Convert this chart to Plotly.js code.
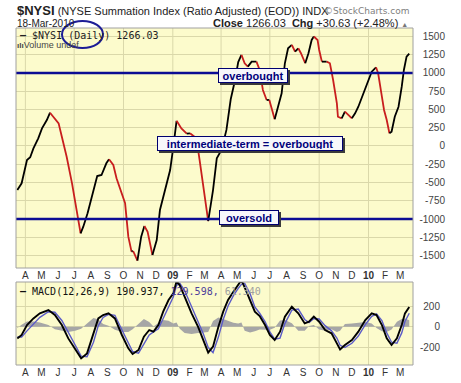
<!DOCTYPE html>
<html><head><meta charset="utf-8">
<script src="https://cdn.plot.ly/plotly-3.0.1.min.js"></script>
<style>html,body{margin:0;padding:0;background:#fff;}#chart{width:461px;height:383px;}</style>
</head><body><div id="chart"></div>
<script>
// ---------------- data ----------------
const nysiDates = ['2008-03-17','2008-03-25','2008-04-04','2008-04-10','2008-04-16','2008-04-25','2008-05-02','2008-05-11','2008-05-17','2008-05-23','2008-06-02','2008-06-08','2008-06-17','2008-06-27','2008-07-05','2008-07-13','2008-07-18','2008-07-26','2008-08-06','2008-08-13','2008-08-21','2008-08-30','2008-09-04','2008-09-12','2008-09-18','2008-09-28','2008-10-04','2008-10-10','2008-10-16','2008-10-19','2008-10-27','2008-11-03','2008-11-09','2008-11-15','2008-11-24','2008-12-02','2008-12-08','2008-12-18','2008-12-27','2009-01-02','2009-01-08','2009-01-17','2009-01-27','2009-02-02','2009-02-07','2009-02-14','2009-02-20','2009-02-28','2009-03-08','2009-03-17','2009-03-24','2009-04-02','2009-04-11','2009-04-19','2009-04-27','2009-05-03','2009-05-09','2009-05-15','2009-05-21','2009-05-28','2009-06-06','2009-06-12','2009-06-18','2009-06-25','2009-06-30','2009-07-04','2009-07-10','2009-07-16','2009-07-23','2009-07-29','2009-08-04','2009-08-11','2009-08-17','2009-08-23','2009-08-28','2009-09-05','2009-09-11','2009-09-17','2009-09-21','2009-09-28','2009-10-01','2009-10-06','2009-10-15','2009-10-21','2009-10-27','2009-11-03','2009-11-05','2009-11-12','2009-11-18','2009-11-24','2009-12-01','2009-12-07','2009-12-13','2009-12-19','2009-12-29','2010-01-07','2010-01-15','2010-01-19','2010-01-26','2010-01-30','2010-02-04','2010-02-09','2010-02-13','2010-02-19','2010-02-26','2010-03-04','2010-03-08','2010-03-13','2010-03-18'];
const nysiValues = [-603,-511,-192,-155,-32,105,242,356,456,401,310,127,-147,-511,-877,-1196,-1105,-922,-603,-411,-397,-237,-182,-260,-442,-648,-785,-1242,-1447,-1438,-1571,-1242,-1096,-1174,-1493,-1288,-877,-603,-329,-9,345,240,170,174,140,105,-192,-603,-1030,-603,-170,-50,220,640,900,1150,1247,1133,1087,1155,1155,1041,767,630,630,516,366,538,722,1133,1338,1384,1292,1338,1270,1133,1270,1452,1500,1452,1315,1155,1155,1133,904,584,401,379,470,425,379,447,538,653,858,1018,1078,996,675,493,356,174,196,401,538,812,1041,1223,1266.03];

const macdDates = ['2008-03-17','2008-03-25','2008-04-04','2008-04-16','2008-04-28','2008-05-14','2008-05-26','2008-06-08','2008-06-20','2008-07-03','2008-07-14','2008-07-25','2008-08-06','2008-08-15','2008-08-24','2008-09-03','2008-09-15','2008-09-28','2008-10-10','2008-10-18','2008-10-29','2008-11-08','2008-11-18','2008-11-26','2008-12-05','2008-12-14','2008-12-24','2009-01-02','2009-01-08','2009-01-14','2009-01-23','2009-02-05','2009-02-17','2009-02-27','2009-03-08','2009-03-17','2009-03-27','2009-04-05','2009-04-14','2009-04-24','2009-05-03','2009-05-09','2009-05-15','2009-05-25','2009-06-03','2009-06-12','2009-06-22','2009-07-01','2009-07-10','2009-07-20','2009-07-29','2009-08-11','2009-08-23','2009-09-04','2009-09-12','2009-09-21','2009-10-01','2009-10-12','2009-10-24','2009-11-03','2009-11-09','2009-11-18','2009-12-01','2009-12-13','2009-12-26','2010-01-07','2010-01-16','2010-01-26','2010-02-04','2010-02-13','2010-02-23','2010-03-04','2010-03-10','2010-03-18'];
const macdValues = [-113,-80,16,80,129,161,113,16,-113,-225,-306,-258,-64,80,113,129,80,-80,-209,-264,-225,-97,-32,-48,16,145,258,322,440,400,290,129,0,-129,-251,-193,0,145,258,338,402,450,380,258,145,103,16,-80,-129,-48,97,193,129,32,48,97,48,-32,-64,-161,-219,-177,-129,-48,64,129,113,16,-113,-177,-113,16,129,190.937];
const signalValues = [-100,-100,-40,30,90,145,140,60,-60,-180,-285,-290,-150,10,90,120,110,-30,-160,-240,-255,-170,-80,-50,-20,80,200,290,400,420,350,200,60,-70,-200,-250,-100,70,200,300,370,410,420,320,190,130,50,-50,-120,-110,30,160,170,70,40,80,75,10,-40,-110,-180,-200,-160,-90,20,100,125,60,-60,-150,-160,-60,50,129.598];
const histValues = [-13,20,50,50,40,16,-25,-40,-50,-40,-20,30,85,70,25,10,-30,-50,-50,-25,30,75,45,2,35,65,58,32,40,-20,-60,-70,-60,-55,-50,55,90,75,55,38,30,40,-40,-55,-45,-27,-30,-30,-10,60,65,33,-40,-38,8,17,-27,-40,-25,-50,-40,25,30,40,45,30,-12,-45,-50,-27,47,75,79,61.34];

const levelValues = [1000, -1000];
const levelLabels = ['overbought', 'oversold'];
const middleLabel = 'intermediate-term = overbought';

const monthTicks = ['2008-04-01','2008-05-01','2008-06-01','2008-07-01','2008-08-01','2008-09-01','2008-10-01','2008-11-01','2008-12-01','2009-01-01','2009-02-01','2009-03-01','2009-04-01','2009-05-01','2009-06-01','2009-07-01','2009-08-01','2009-09-01','2009-10-01','2009-11-01','2009-12-01','2010-01-01','2010-02-01','2010-03-01'];
const monthLabels = ['A','M','J','J','A','S','O','N','D','<b>09</b>','F','M','A','M','J','J','A','S','O','N','D','<b>10</b>','F','M'];
const quarterTicks = ['2008-04-01','2008-07-01','2008-10-01','2009-01-01','2009-04-01','2009-07-01','2009-10-01','2010-01-01'];
const mainTicks = [-1500,-1250,-1000,-750,-500,-250,0,250,500,750,1000,1250,1500];
const mainTickText = ['-1500','-1250','-1000','-750','-500','-250','0','250','500','750','1000','1250','1500'];
const macdTicks = [-200, 0, 200];
const macdTickText = ['-200', '0', '200'];

// ---------------- layout helpers ----------------
const FONT = 'Liberation Sans, Arial, sans-serif';
const MONO = 'DejaVu Sans Mono, monospace';
const W = 461, H = 383, ML = 16, MR = 16, MT = 28, MB = 18;
const PW = W - ML - MR, PH = H - MT - MB;
const px2x = p => (p - ML) / PW;
const px2y = p => (H - MB - p) / PH;
const xEnd = px2x(413);
const GRID = '#DAD8AA';
const NAVY = '#0C0C94';
const xRange = ['2008-03-14 12:00', '2010-03-25'];

function ellipsePath(cxp, cyp, rxp, ryp) {
  const cx = px2x(cxp), cy = px2y(cyp), rx = rxp / PW, ry = ryp / PH, k = 0.5523;
  const f = (a, b) => a.toFixed(5) + ',' + b.toFixed(5);
  return 'M' + f(cx + rx, cy) +
    ' C' + f(cx + rx, cy + k * ry) + ' ' + f(cx + k * rx, cy + ry) + ' ' + f(cx, cy + ry) +
    ' C' + f(cx - k * rx, cy + ry) + ' ' + f(cx - rx, cy + k * ry) + ' ' + f(cx - rx, cy) +
    ' C' + f(cx - rx, cy - k * ry) + ' ' + f(cx - k * rx, cy - ry) + ' ' + f(cx, cy - ry) +
    ' C' + f(cx + k * rx, cy - ry) + ' ' + f(cx + rx, cy - k * ry) + ' ' + f(cx + rx, cy) + ' Z';
}

// ---------------- traces ----------------
const traces = [];
let run = null; const runs = [];
for (let i = 1; i < nysiValues.length; i++) {
  const up = nysiValues[i] >= nysiValues[i - 1];
  if (!run || run.up !== up) { run = {up, x: [nysiDates[i - 1]], y: [nysiValues[i - 1]]}; runs.push(run); }
  run.x.push(nysiDates[i]); run.y.push(nysiValues[i]);
}
runs.forEach(r => traces.push({type: 'scatter', mode: 'lines', x: r.x, y: r.y, xaxis: 'x', yaxis: 'y',
  line: {color: r.up ? '#000000' : '#C81E1E', width: 1.8}, hoverinfo: 'skip', showlegend: false}));

traces.push({type: 'scatter', mode: 'lines', x: macdDates, y: histValues, xaxis: 'x2', yaxis: 'y2',
  fill: 'tozeroy', fillcolor: '#A6A6A6', line: {width: 0, color: '#A6A6A6'}, hoverinfo: 'skip', showlegend: false});
traces.push({type: 'scatter', mode: 'lines', x: macdDates, y: signalValues, xaxis: 'x2', yaxis: 'y2',
  line: {color: '#5B5BC8', width: 1.4}, hoverinfo: 'skip', showlegend: false});
traces.push({type: 'scatter', mode: 'lines', x: macdDates, y: macdValues, xaxis: 'x2', yaxis: 'y2',
  line: {color: '#000000', width: 1.9}, hoverinfo: 'skip', showlegend: false});

// ---------------- shapes ----------------
const shapes = [];
quarterTicks.forEach(d => {
  shapes.push({type: 'line', xref: 'x', yref: 'y domain', x0: d, x1: d, y0: 0, y1: 1, line: {color: GRID, width: 1}, layer: 'below'});
  shapes.push({type: 'line', xref: 'x2', yref: 'y2 domain', x0: d, x1: d, y0: 0, y1: 1, line: {color: GRID, width: 1}, layer: 'below'});
});
levelValues.forEach(v => shapes.push({type: 'line', xref: 'x domain', yref: 'y', x0: 0, x1: 1, y0: v, y1: v,
  line: {color: NAVY, width: 2.5}, layer: 'above'}));
shapes.push({type: 'rect', xref: 'x domain', yref: 'y domain', x0: 0, x1: 1, y0: 0, y1: 1, line: {color: '#A0A0A0', width: 1}, fillcolor: 'rgba(0,0,0,0)', layer: 'above'});
shapes.push({type: 'rect', xref: 'x2 domain', yref: 'y2 domain', x0: 0, x1: 1, y0: 0, y1: 1, line: {color: '#A0A0A0', width: 1}, fillcolor: 'rgba(0,0,0,0)', layer: 'above'});
shapes.push({type: 'path', xref: 'paper', yref: 'paper', path: ellipsePath(82.5, 34.5, 20.5, 13.5),
  line: {color: '#1C1C96', width: 2}, fillcolor: 'rgba(0,0,0,0)', layer: 'above'});

// ---------------- annotations ----------------
const boxStyle = {showarrow: false, bgcolor: '#F7F7FB', bordercolor: '#000070', borderwidth: 1, borderpad: 1,
  font: {family: FONT, size: 11, color: '#00007A'}};
const shadowStyle = {showarrow: false, bgcolor: '#3A3A3A', borderwidth: 1, bordercolor: '#3A3A3A', borderpad: 1,
  xshift: 2, yshift: -2, text: '\u00a0', font: {family: FONT, size: 11}};
const boxes = [
  {x: '2009-05-30', y: 965, text: '<b>' + levelLabels[0] + '</b>', width: 66, height: 11},
  {x: '2009-05-25', y: 34, text: '<b>' + middleLabel + '</b>', width: 182, height: 11},
  {x: '2009-05-23', y: -985, text: '<b>' + levelLabels[1] + '</b>', width: 56, height: 11}
];
const annotations = [
  {xref: 'paper', yref: 'paper', x: px2x(15), y: px2y(10.5), xanchor: 'left', yanchor: 'middle', showarrow: false,
   text: '<b><span style="font-size:13px">$NYSI</span></b> (NYSE Summation Index (Ratio Adjusted) (EOD)) INDX',
   font: {family: FONT, size: 11, color: '#222'}},
  {xref: 'paper', yref: 'paper', x: px2x(411), y: px2y(11), xanchor: 'right', yanchor: 'middle', showarrow: false,
   text: '©StockCharts.com', font: {family: 'DejaVu Sans, sans-serif', size: 9, color: '#808080'}},
  {xref: 'paper', yref: 'paper', x: px2x(15), y: px2y(23.5), xanchor: 'left', yanchor: 'middle', showarrow: false,
   text: '18-Mar-2010', font: {family: FONT, size: 10, color: '#222'}},
  {xref: 'paper', yref: 'paper', x: px2x(410), y: px2y(23.5), xanchor: 'right', yanchor: 'middle', showarrow: false,
   text: '<b>Close</b> 1266.03  <b>Chg</b> +30.63 (+2.48%) <span style="font-size:7px;color:#777">▲</span>',
   font: {family: FONT, size: 11, color: '#222'}},
  {xref: 'paper', yref: 'paper', x: px2x(18), y: px2y(35), xanchor: 'left', yanchor: 'middle', showarrow: false,
   text: '<b>—</b> $NYSI (Daily) 1266.03', font: {family: MONO, size: 10, color: '#222'}},
  {xref: 'paper', yref: 'paper', x: px2x(15), y: px2y(45.5), xanchor: 'left', yanchor: 'middle', showarrow: false,
   text: '<b><span style="font-size:8px">ılı</span></b>Volume undef', font: {family: FONT, size: 9, color: '#444'}},
  {xref: 'paper', yref: 'paper', x: px2x(18), y: px2y(291), xanchor: 'left', yanchor: 'middle', showarrow: false,
   text: '<b>—</b> MACD(12,26,9) 190.937, <span style="color:#4E3F9A">129.598,</span> <span style="color:#A0A0A0">61.340</span>',
   font: {family: MONO, size: 10, color: '#111'}}
];
boxes.forEach(b => annotations.push(Object.assign({}, shadowStyle, {xref: 'x', yref: 'y', x: b.x, y: b.y, width: b.width, height: b.height})));
boxes.forEach(b => annotations.push(Object.assign({}, boxStyle, {xref: 'x', yref: 'y'}, b)));

const axisX = {type: 'date', range: xRange, domain: [0, xEnd], tickmode: 'array', tickvals: monthTicks, ticktext: monthLabels,
  showgrid: false, zeroline: false, showline: false, ticks: '', tickangle: 0, fixedrange: true,
  tickfont: {family: FONT, size: 10, color: '#333'}};

const layout = {
  width: W, height: H, margin: {l: ML, r: MR, t: MT, b: MB, pad: 0},
  paper_bgcolor: '#FFFFFF', plot_bgcolor: '#FCFBCC', showlegend: false,
  xaxis: Object.assign({}, axisX, {anchor: 'y'}),
  xaxis2: Object.assign({}, axisX, {anchor: 'y2', matches: 'x'}),
  yaxis: {domain: [px2y(268), 1], range: [-1671, 1616], anchor: 'free', position: 1, side: 'left',
    tickmode: 'array', tickvals: mainTicks, ticktext: mainTickText, showgrid: true, gridcolor: GRID, gridwidth: 1,
    zeroline: false, showline: false, ticks: '', fixedrange: true, tickfont: {family: FONT, size: 10, color: '#444'}},
  yaxis2: {domain: [0, px2y(282)], range: [-370, 432], anchor: 'free', position: 1, side: 'left',
    tickmode: 'array', tickvals: macdTicks, ticktext: macdTickText, showgrid: true, gridcolor: GRID, gridwidth: 1,
    zeroline: false, showline: false, ticks: '', ticklabelstandoff: 5, fixedrange: true, tickfont: {family: FONT, size: 10, color: '#444'}},
  shapes: shapes, annotations: annotations
};

Plotly.newPlot('chart', traces, layout, {staticPlot: true, displayModeBar: false});
</script></body></html>
